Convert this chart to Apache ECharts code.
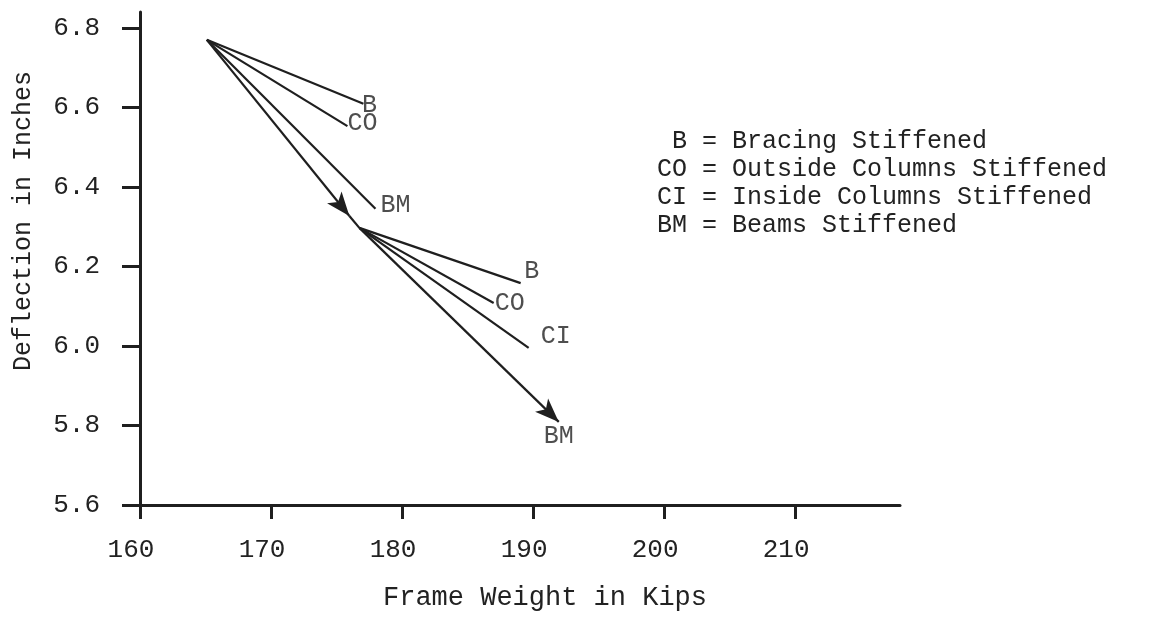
<!DOCTYPE html>
<html>
<head>
<meta charset="utf-8">
<script src="https://cdn.jsdelivr.net/npm/echarts@6/dist/echarts.min.js"></script>
<style>
  html, body { margin: 0; padding: 0; background: #fff; }
  #chart { width: 1150px; height: 629px; }
</style>
</head>
<body>
<div id="chart"></div>
<script>
// 轴刻度
const xTicks = [160, 170, 180, 190, 200, 210];
const yTicks = [5.6, 5.8, 6.0, 6.2, 6.4, 6.6, 6.8];

// 第一组：从初始设计出发
const origin1 = [165.1, 6.770];
const ends1 = [[177.05, 6.609], [175.83, 6.553], [177.97, 6.345]];
const labels1 = ['B', 'CO', 'BM'];
const arrowTip1 = [175.98, 6.327];

// 第二组：从梁加强后的设计出发
const origin2 = [176.74, 6.297];
const ends2 = [[189.05, 6.158], [186.99, 6.108], [189.66, 5.995]];
const labels2 = ['B', 'CO', 'CI'];
const arrowEnd2 = [191.96, 5.809];
const arrowLabel2 = 'BM';

const legendLines = [
    ' B = Bracing Stiffened',
    'CO = Outside Columns Stiffened',
    'CI = Inside Columns Stiffened',
    'BM = Beams Stiffened'
];

const ink = '#1f1f1f';
const textInk = '#222';
const font = '"Liberation Mono", "DejaVu Sans Mono", monospace';

let myChart = echarts.init(document.getElementById('chart'));

// 普通线段
let plainLines = [];
ends1.forEach(function (e) { plainLines.push({ coords: [origin1, e] }); });
ends2.forEach(function (e) { plainLines.push({ coords: [origin2, e] }); });
plainLines.push({ coords: [arrowTip1, origin2] });

// 带箭头的线段
let arrowLines = [
    { coords: [origin1, arrowTip1] },
    { coords: [origin2, arrowEnd2] }
];

// 端点文字，偏移手调
let labelOffsets1 = [[6, 2], [15, -3], [20, -3]];
let labelOffsets2 = [[11, -12], [16, 0], [27, -12]];
let tagData = [];
ends1.forEach(function (e, i) {
    tagData.push({ value: e, name: labels1[i], label: { offset: labelOffsets1[i] } });
});
ends2.forEach(function (e, i) {
    tagData.push({ value: e, name: labels2[i], label: { offset: labelOffsets2[i] } });
});
tagData.push({ value: arrowEnd2, name: arrowLabel2, label: { offset: [0, 14] } });

let option = {
    backgroundColor: '#fff',
    animation: false,
    grid: { left: 140, right: 250, top: 12, bottom: 124 },
    xAxis: {
        type: 'value',
        min: 160,
        max: 218,
        axisLine: { lineStyle: { color: ink, width: 3 } },
        axisTick: { show: true, length: 14, customValues: xTicks, lineStyle: { color: ink, width: 3 } },
        axisLabel: {
            customValues: xTicks,
            margin: 32,
            padding: [0, 18, 0, 0],
            color: textInk,
            fontFamily: font,
            fontSize: 26
        },
        splitLine: { show: false }
    },
    yAxis: {
        type: 'value',
        min: 5.6,
        max: 6.84,
        axisLine: { show: true, lineStyle: { color: ink, width: 3 } },
        axisTick: { show: true, length: 18, customValues: yTicks, lineStyle: { color: ink, width: 3 } },
        axisLabel: {
            customValues: yTicks,
            margin: 40,
            color: textInk,
            fontFamily: font,
            fontSize: 26,
            formatter: function (v) { return v.toFixed(1); }
        },
        splitLine: { show: false }
    },
    graphic: [
        {
            type: 'text',
            x: 23,
            y: 221,
            rotation: Math.PI / 2,
            style: {
                text: 'Deflection in Inches',
                font: '25px ' + font,
                fill: textInk,
                align: 'center',
                verticalAlign: 'middle'
            }
        },
        {
            type: 'text',
            x: 545,
            y: 598,
            style: {
                text: 'Frame Weight in Kips',
                font: '27px ' + font,
                fill: textInk,
                align: 'center',
                verticalAlign: 'middle'
            }
        },
        {
            type: 'text',
            x: 657,
            y: 128,
            style: {
                text: legendLines.join('\n'),
                font: '25px ' + font,
                fill: textInk,
                lineHeight: 27.7,
                align: 'left',
                verticalAlign: 'top'
            }
        }
    ],
    series: [
        {
            name: '线段',
            type: 'lines',
            coordinateSystem: 'cartesian2d',
            silent: true,
            symbol: ['none', 'none'],
            lineStyle: { color: ink, width: 2.2, opacity: 1, curveness: 0 },
            data: plainLines
        },
        {
            name: '箭头',
            type: 'lines',
            coordinateSystem: 'cartesian2d',
            silent: true,
            symbol: ['none', 'arrow'],
            symbolSize: [0, [14, 24]],
            lineStyle: { color: ink, width: 2.2, opacity: 1, curveness: 0 },
            data: arrowLines
        },
        {
            name: '标注',
            type: 'scatter',
            silent: true,
            symbolSize: 0,
            label: {
                show: true,
                position: 'inside',
                formatter: '{b}',
                color: textInk,
                fontFamily: font,
                fontSize: 25
            },
            data: tagData
        }
    ]
};

myChart.setOption(option);
</script>
</body>
</html>
